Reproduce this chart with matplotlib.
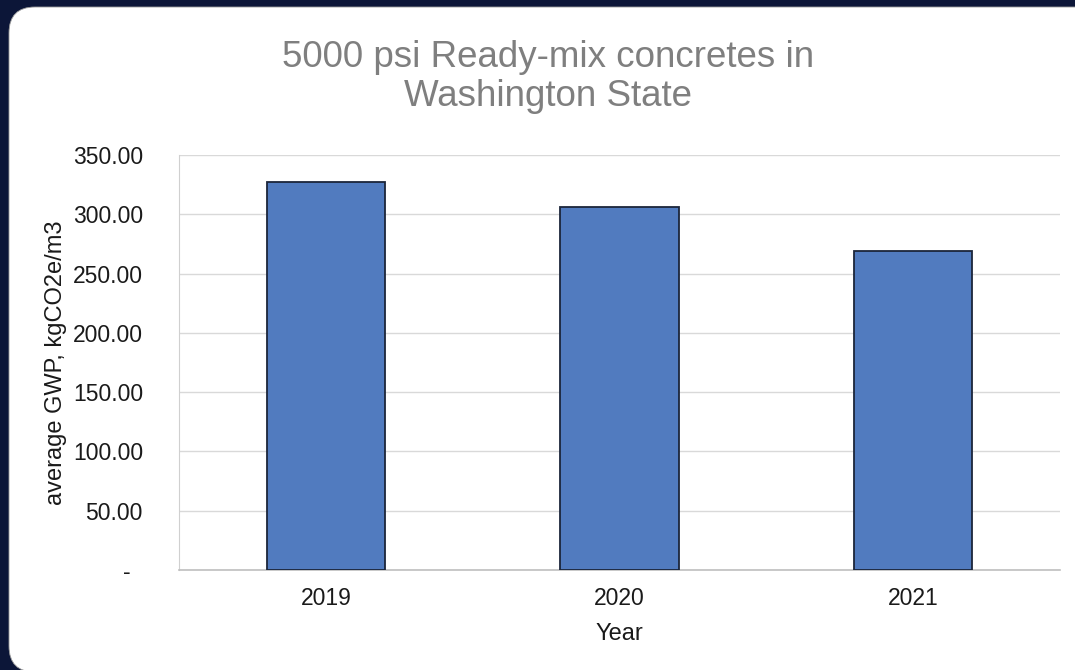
import matplotlib
matplotlib.use("Agg")
import matplotlib.pyplot as plt
from matplotlib.patches import FancyBboxPatch

years = ["2019", "2020", "2021"]
gwp = [327.5, 306.0, 269.0]
yticks = [0, 50, 100, 150, 200, 250, 300, 350]
ytick_labels = ["-  ", "50.00", "100.00", "150.00", "200.00", "250.00", "300.00", "350.00"]
title = "5000 psi Ready-mix concretes in\nWashington State"
xlabel = "Year"
ylabel = "average GWP, kgCO2e/m3"

plt.rcParams['font.family'] = ['Liberation Sans', 'DejaVu Sans']

W, H = 1075, 670
fig = plt.figure(figsize=(W / 100, H / 100), dpi=100, facecolor="#0C1638")

# white rounded panel
bg = fig.add_axes([0, 0, 1, 1])
bg.set_xlim(0, W)
bg.set_ylim(H, 0)
bg.axis("off")
bg.add_patch(FancyBboxPatch((9, 7), 1100, 665, boxstyle="round,pad=0,rounding_size=26",
                            facecolor="white", edgecolor="#9a9a9a", linewidth=0.6))

ax = fig.add_axes([179 / W, (H - 570) / H, (1060 - 179) / W, (570 - 155) / H])
ax.set_facecolor("white")
x = range(len(years))
ax.bar(x, gwp, width=0.403, color="#517BBF", edgecolor="#1B253A", linewidth=1.3, zorder=3)
ax.set_xlim(-0.5, len(years) - 0.5)
ax.set_ylim(0, 350)
ax.set_yticks(yticks)
ax.set_yticklabels(ytick_labels)
ax.set_xticks(list(x))
ax.set_xticklabels(years)
ax.grid(axis="y", color="#D9D9D9", linewidth=1.0, zorder=0)
for s in ["top", "right"]:
    ax.spines[s].set_visible(False)
ax.spines["left"].set_color("#D0D0D0")
ax.spines["bottom"].set_color("#BFBFBF")
ax.spines["bottom"].set_linewidth(1.2)
ax.tick_params(axis="both", length=0, labelsize=16.5, labelcolor="#1a1a1a")
ax.tick_params(axis="y", pad=26)
ax.tick_params(axis="x", pad=12.5)
ax.set_xlabel(xlabel, fontsize=17, color="#1a1a1a", labelpad=9)
ax.set_ylabel(ylabel, fontsize=17, color="#1a1a1a", labelpad=4.5)

fig.text(548 / W, 1 - 77 / H, title, ha="center", va="center", fontsize=26.5,
         color="#7F7F7F", linespacing=1.17)

fig.savefig("out.png", dpi=100, facecolor=fig.get_facecolor())
